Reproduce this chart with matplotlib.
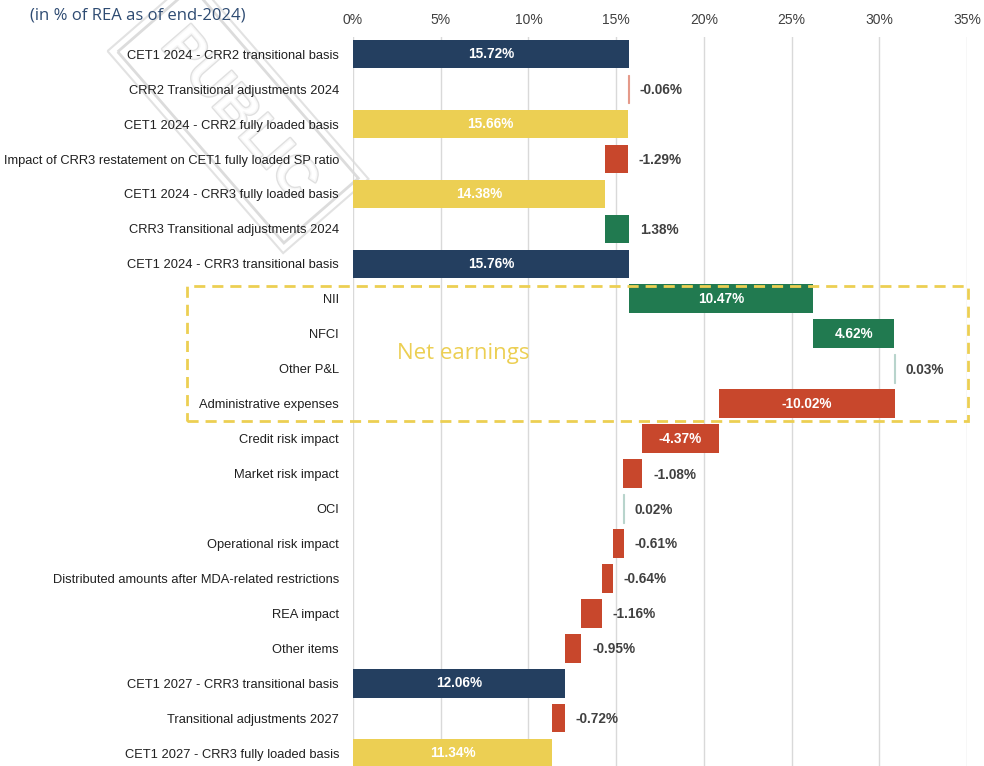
import matplotlib
matplotlib.use("Agg")
import matplotlib.pyplot as plt
import matplotlib.patheffects as pe
from matplotlib.patches import Rectangle

categories = [
    "CET1 2024 - CRR2 transitional basis",
    "CRR2 Transitional adjustments 2024",
    "CET1 2024 - CRR2 fully loaded basis",
    "Impact of CRR3 restatement on CET1 fully loaded SP ratio",
    "CET1 2024 - CRR3 fully loaded basis",
    "CRR3 Transitional adjustments 2024",
    "CET1 2024 - CRR3 transitional basis",
    "NII",
    "NFCI",
    "Other P&L",
    "Administrative expenses",
    "Credit risk impact",
    "Market risk impact",
    "OCI",
    "Operational risk impact",
    "Distributed amounts after MDA-related restrictions",
    "REA impact",
    "Other items",
    "CET1 2027 - CRR3 transitional basis",
    "Transitional adjustments 2027",
    "CET1 2027 - CRR3 fully loaded basis",
]
values = [15.72, -0.06, 15.66, -1.29, 14.38, 1.38, 15.76, 10.47, 4.62, 0.03,
          -10.02, -4.37, -1.08, 0.02, -0.61, -0.64, -1.16, -0.95, 12.06, -0.72, 11.34]
kinds = ["total_t", "delta", "total_f", "delta", "total_f", "delta", "total_t",
         "delta", "delta", "delta", "delta", "delta", "delta", "delta", "delta",
         "delta", "delta", "delta", "total_t", "delta", "total_f"]
xticks = [0, 5, 10, 15, 20, 25, 30, 35]

NAVY = "#243F60"
YELLOW = "#ECCF53"
RED = "#C8472C"
GREEN = "#217A50"
PINK = "#E59A8A"
PALE = "#B8D4CC"

plt.rcParams["font.family"] = ["Liberation Sans", "DejaVu Sans"]

fig = plt.figure(figsize=(9.84, 7.66), dpi=100)
ax = fig.add_axes([353 / 984, 0, (967 - 353) / 984, (766 - 36.7) / 766])
ax.patch.set_alpha(0)

n = len(categories)
level = 0.0
for i, (v, k) in enumerate(zip(values, kinds)):
    if k.startswith("total"):
        left, width = 0, v
        color = NAVY if k == "total_t" else YELLOW
        level = v
    else:
        left = level if v >= 0 else level + v
        width = abs(v)
        level = level + v
        if abs(v) < 0.05:
            color = PALE if v > 0 else PINK
        elif abs(v) < 0.1:
            color = PINK
        else:
            color = GREEN if v > 0 else RED
    lw = 0.8 if width < 0.1 else 0
    ax.barh(i, width, left=left, height=0.82, color=color, edgecolor=color,
            linewidth=lw, zorder=3)
    txt = f"{v:.2f}%"
    if k.startswith("total") or abs(v) >= 4:
        ax.text(left + width / 2, i, txt, ha="center", va="center", color="white",
                fontsize=9.8, fontweight="bold", zorder=4)
    else:
        ax.text(left + width + 0.62, i + 0.03, txt, ha="left", va="center", color="#404040",
                fontsize=9.8, fontweight="bold", zorder=4)

ax.set_xlim(0, 35)
ax.set_ylim(n - 0.63, -0.5)
ax.set_xticks(xticks)
ax.set_xticklabels([f"{t}%" for t in xticks])
ax.xaxis.tick_top()
ax.tick_params(axis="x", length=0, pad=7, labelsize=10, labelcolor="#404040")
ax.set_yticks(range(n))
ax.set_yticklabels(categories)
ax.tick_params(axis="y", length=0, pad=10, labelsize=9.3, labelcolor="#202020")
ax.grid(axis="x", color="#D9D9D9", linewidth=1, zorder=0)
for s in ax.spines.values():
    s.set_visible(False)

# Net earnings dashed box
box = Rectangle((187 / 984, 1 - 421 / 766), (968 - 187) / 984, (421 - 286) / 766,
                transform=fig.transFigure, fill=False, edgecolor=YELLOW,
                linestyle=(0, (4, 2.5)), linewidth=2, zorder=5, clip_on=False)
fig.patches.append(box)
fig.text(397 / 984, 1 - 353 / 766, "Net earnings", color=YELLOW, fontsize=16,
         family=["Open Sans", "DejaVu Sans"], ha="left", va="center")

fig.text(30 / 984, 1 - 15 / 766, "(in % of REA as of end-2024)", color="#2E4B72",
         fontsize=12, family=["Open Sans", "DejaVu Sans"], ha="left", va="center")

# watermark (double-framed, faint)
wm_x, wm_y, wm_rot = 238 / 984, 1 - 115 / 766, -49
fig.text(wm_x, wm_y, "PUBLIC", rotation=wm_rot, color="white", alpha=0.75,
         fontsize=40, fontweight="bold", family=["Liberation Sans", "DejaVu Sans"],
         ha="center", va="center", zorder=-1,
         path_effects=[pe.withStroke(linewidth=2, foreground="#D6D6D6")],
         bbox=dict(boxstyle="square,pad=0.42", facecolor="none", edgecolor="#DCDCDC",
                   linewidth=2))
fig.text(wm_x, wm_y, "PUBLIC", rotation=wm_rot, color="none",
         fontsize=40, fontweight="bold", family=["Liberation Sans", "DejaVu Sans"],
         ha="center", va="center", zorder=-1,
         bbox=dict(boxstyle="square,pad=0.55", facecolor="none", edgecolor="#E2E2E2",
                   linewidth=1.5))

fig.savefig("out.png", dpi=100)
